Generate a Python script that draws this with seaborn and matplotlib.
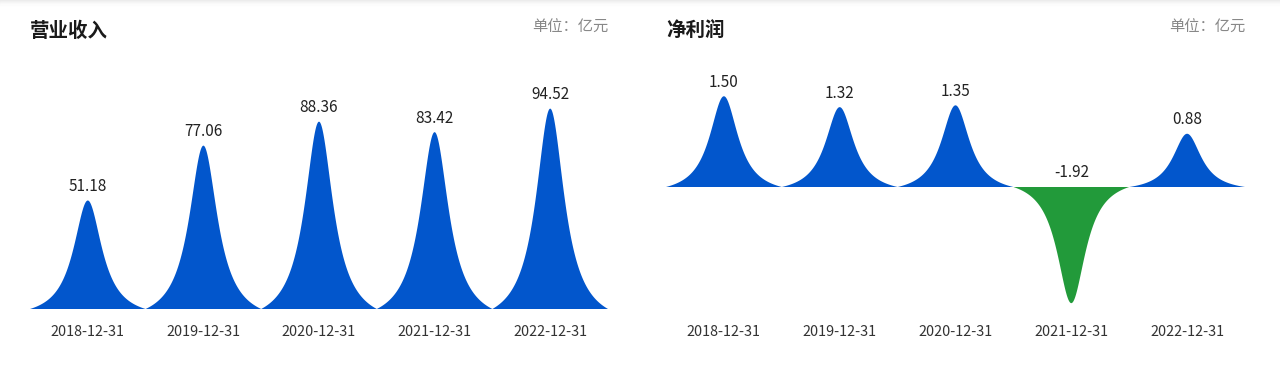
import numpy as np
import pandas as pd
import matplotlib
matplotlib.use('Agg')
import matplotlib.pyplot as plt
from matplotlib.patches import Polygon, Rectangle
import seaborn as sns

# chart data
dates = ['2018-12-31', '2019-12-31', '2020-12-31', '2021-12-31', '2022-12-31']
revenue = [51.18, 77.06, 88.36, 83.42, 94.52]
net_profit = [1.50, 1.32, 1.35, -1.92, 0.88]

titles = ['营业收入', '净利润']
unit_text = '单位：亿元'

BLUE = '#0256CC'
GREEN = '#229A3A'

sns.set_style('white')
plt.rcParams['font.family'] = ['Noto Sans CJK SC', 'DejaVu Sans']


def spike_shape(x0, w, h, a=0.15, n=240):
    # peaked symbol spanning the whole category, base on y=0
    u = np.linspace(-0.5, 0.5, n)
    f = 1.0 / (1.0 + (u / a) ** 2)
    f0 = 1.0 / (1.0 + (0.5 / a) ** 2)
    prof = (f - f0) / (1.0 - f0)
    xs = x0 + (u + 0.5) * w
    ys = prof * h
    return np.column_stack([xs, ys])


def draw_panel(ax, values, ylim, label_fmt='{:.2f}'):
    df = pd.DataFrame({'date': dates, 'value': values})
    sns.barplot(data=df, x='date', y='value', width=1.0, ax=ax,
                color=BLUE, errorbar=None)
    for p in list(ax.patches):
        x0, w, h = p.get_x(), p.get_width(), p.get_height()
        col = BLUE if h >= 0 else GREEN
        p.remove()
        ax.add_patch(Polygon(spike_shape(x0, w, h), closed=True,
                             facecolor=col, edgecolor='none'))
        ax.annotate(label_fmt.format(h), (x0 + w / 2, max(h, 0)),
                    xytext=(0, 4), textcoords='offset points',
                    ha='center', va='bottom', fontsize=11, color='#222222')
    ax.set_xlim(-0.5, len(values) - 0.5)
    ax.set_ylim(*ylim)
    ax.set_xlabel('')
    ax.set_ylabel('')
    ax.set_yticks([])
    for s in ax.spines.values():
        s.set_visible(False)
    ax.tick_params(axis='x', length=0, labelsize=10.4, colors='#333333')


fig = plt.figure(figsize=(12.8, 3.72), dpi=100)
W, H = 1280, 372

ax1 = fig.add_axes([30 / W, (H - 309) / H, 578 / W, 212 / H])
draw_panel(ax1, revenue, (0, 100))
ax1.tick_params(axis='x', pad=11.5)

ax2 = fig.add_axes([666 / W, (H - 308) / H, 579 / W, 217.8 / H])
draw_panel(ax2, net_profit, (-2.0, 1.6))
ax2.tick_params(axis='x', pad=12)

# headers
fig.text(30 / W, 1 - 31 / H, titles[0], fontsize=14, fontweight='bold',
         color='#1a1a1a', ha='left', va='center')
fig.text(608 / W, 1 - 27.5 / H, unit_text, fontsize=11, color='#888888',
         ha='right', va='center')
fig.text(666 / W, 1 - 31 / H, titles[1], fontsize=14, fontweight='bold',
         color='#1a1a1a', ha='left', va='center')
fig.text(1245 / W, 1 - 27.5 / H, unit_text, fontsize=11, color='#888888',
         ha='right', va='center')

# faint shadow along the top edge
for i, c in enumerate(['#ececec', '#f1f1f1', '#f5f5f5', '#f9f9f9', '#fcfcfc']):
    fig.patches.append(Rectangle((0, 1 - (i + 1) / H), 1, 1 / H,
                                 transform=fig.transFigure, color=c, zorder=0))

fig.savefig('out.png', dpi=100)
